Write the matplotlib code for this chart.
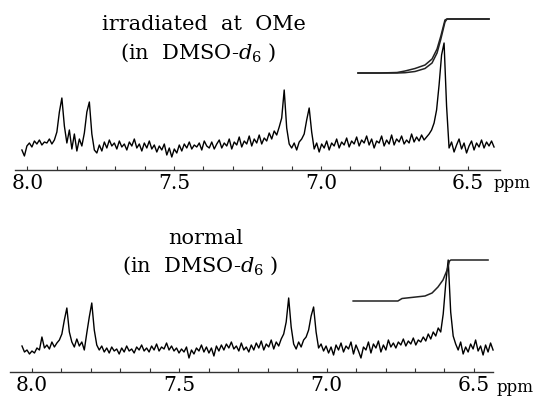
import numpy as np
import matplotlib
matplotlib.use("Agg")
import matplotlib.pyplot as plt

plt.rcParams['font.family'] = ['DejaVu Serif']
plt.rcParams['mathtext.fontset'] = 'dejavuserif'

# ---------------- data ----------------
# tick labels (ppm)
tick_labels = [8.0, 7.5, 7.0, 6.5]
minor_ticks = [8.0, 7.9, 7.8, 7.7, 7.6, 7.5, 7.4, 7.3, 7.2, 7.1, 7.0, 6.9, 6.8, 6.7, 6.6, 6.5]

top_range = (8.018, 6.411)
top_intensity = [
    20, 14, 24, 27, 23, 29, 26, 30, 25, 28,
    27, 31, 26, 30, 38, 58, 72, 44, 27, 40,
    21, 36, 19, 31, 24, 37, 58, 68, 36, 20,
    17, 25, 19, 28, 22, 30, 24, 27, 21, 29,
    23, 26, 20, 28, 24, 31, 22, 26, 19, 27,
    22, 29, 21, 25, 18, 24, 20, 26, 15, 22,
    13, 21, 17, 25, 19, 26, 22, 28, 21, 25,
    23, 27, 20, 29, 24, 22, 28, 21, 26, 30,
    22, 27, 24, 31, 21, 28, 25, 33, 23, 29,
    26, 34, 24, 31, 27, 35, 26, 32, 29, 37,
    31, 39, 35, 43, 52, 80, 42, 26, 22, 27,
    20, 28, 31, 36, 50, 62, 38, 21, 27, 18,
    26, 22, 29, 20, 27, 24, 31, 22, 28, 25,
    32, 23, 29, 26, 33, 24, 30, 27, 34, 25,
    31, 22, 29, 27, 34, 24, 30, 26, 35, 25,
    31, 28, 34, 26, 30, 27, 36, 28, 33, 29,
    35, 30, 33, 36, 40, 47, 60, 85, 115, 127,
    64, 22, 28, 18, 25, 31, 21, 27, 17, 24,
    29, 20, 27, 23, 30, 22, 28, 24, 29, 23,
]

bot_range = (8.034, 6.435)
bot_intensity = [
    26, 20, 22, 18, 21, 19, 24, 22, 35, 24,
    27, 23, 30, 25, 29, 32, 38, 52, 64, 40,
    30, 25, 33, 26, 30, 22, 39, 55, 69, 42,
    27, 22, 26, 20, 24, 19, 25, 21, 23, 18,
    24, 20, 26, 21, 23, 19, 25, 22, 27, 21,
    24, 20, 26, 22, 28, 21, 25, 23, 29, 22,
    26, 21, 24, 19, 23, 20, 25, 14, 22, 18,
    24, 21, 27, 20, 25, 19, 24, 16, 26, 21,
    27, 22, 28, 24, 30, 23, 26, 21, 29, 22,
    25, 20, 27, 22, 29, 24, 31, 22, 28, 25,
    32, 23, 30, 26, 33, 38, 50, 74, 45, 28,
    23, 30, 25, 32, 35, 42, 56, 65, 40, 24,
    28, 21, 26, 19, 25, 17, 27, 22, 29, 20,
    26, 23, 30, 18, 27, 21, 14, 25, 22, 30,
    19, 28, 24, 31, 20, 27, 22, 32, 25, 29,
    24, 30, 27, 33, 26, 31, 28, 34, 27, 32,
    30, 35, 31, 38, 33, 40, 36, 44, 40, 58,
    88, 112, 60, 36, 28, 22, 30, 18, 25, 20,
    28, 23, 32, 21, 26, 17, 27, 20, 29, 22,
]

# integral traces
top_int_ppm = [6.874, 6.800, 6.741, 6.714, 6.680, 6.646, 6.622, 6.605, 6.592, 6.578, 6.571, 6.428]
top_int_a = [97, 97, 97.5, 99, 101.5, 105, 111, 121, 134, 150, 151, 151]
top_int_b = [97, 97, 97, 97.3, 98.5, 101.5, 107, 117, 131, 148, 151, 151]

bot_int_ppm = [6.910, 6.758, 6.744, 6.666, 6.642, 6.622, 6.605, 6.591, 6.583, 6.578, 6.452]
bot_int = [71, 71, 73.5, 76, 79, 85, 92, 102, 111, 112, 112]

top_title = ["irradiated  at  OMe", "(in  DMSO-$d_6$ )"]
bot_title = ["normal", "(in  DMSO-$d_6$ )"]

# ---------------- figure ----------------
W, H = 544, 398
fig = plt.figure(figsize=(W / 100, H / 100), dpi=100)
fig.patch.set_facecolor('white')


def px_rect(left, right, bottom_y, top_y):
    return [left / W, (H - bottom_y) / H, (right - left) / W, (bottom_y - top_y) / H]


def setup(ax, xlim):
    ax.set_xlim(*xlim)
    ax.set_ylim(0, 160)
    for s in ['top', 'left', 'right']:
        ax.spines[s].set_visible(False)
    ax.spines['bottom'].set_color('#333333')
    ax.spines['bottom'].set_linewidth(1.0)
    ax.set_yticks([])
    ax.set_xticks(tick_labels)
    ax.set_xticklabels([f"{v:.1f}" for v in tick_labels], fontsize=14.5)
    ax.set_xticks(minor_ticks, minor=True)
    ax.tick_params(axis='x', which='both', direction='in', length=3, width=0.8,
                   color='#333333', pad=3)
    ax.patch.set_alpha(0)


ax1 = fig.add_axes(px_rect(15, 500, 170, 10))
setup(ax1, (8.0415, 6.3907))
x1 = np.linspace(top_range[0], top_range[1], len(top_intensity))
ax1.plot(x1, top_intensity, color='black', lw=1.0, clip_on=False)
ax1.plot(top_int_ppm, top_int_a, color='#222222', lw=1.1, clip_on=False)
ax1.plot(top_int_ppm, top_int_b, color='#222222', lw=1.1, clip_on=False)

ax2 = fig.add_axes(px_rect(10, 493, 372, 212))
setup(ax2, (8.0747, 6.4352))
x2 = np.linspace(bot_range[0], bot_range[1], len(bot_intensity))
ax2.plot(x2, bot_intensity, color='black', lw=1.0, clip_on=False)
ax2.plot(bot_int_ppm, bot_int, color='#222222', lw=1.1, clip_on=False)


def ftext(x, y, s, **kw):
    fig.text(x / W, 1 - y / H, s, **kw)


ftext(204, 25, top_title[0], ha='center', va='center', fontsize=15)
ftext(198, 53, top_title[1], ha='center', va='center', fontsize=15)
ftext(206, 238, bot_title[0], ha='center', va='center', fontsize=15)
ftext(200, 266, bot_title[1], ha='center', va='center', fontsize=15)
ftext(494, 184, "ppm", ha='left', va='center', fontsize=12)
ftext(497, 387, "ppm", ha='left', va='center', fontsize=12)

fig.savefig("out.png", dpi=100, facecolor='white')
